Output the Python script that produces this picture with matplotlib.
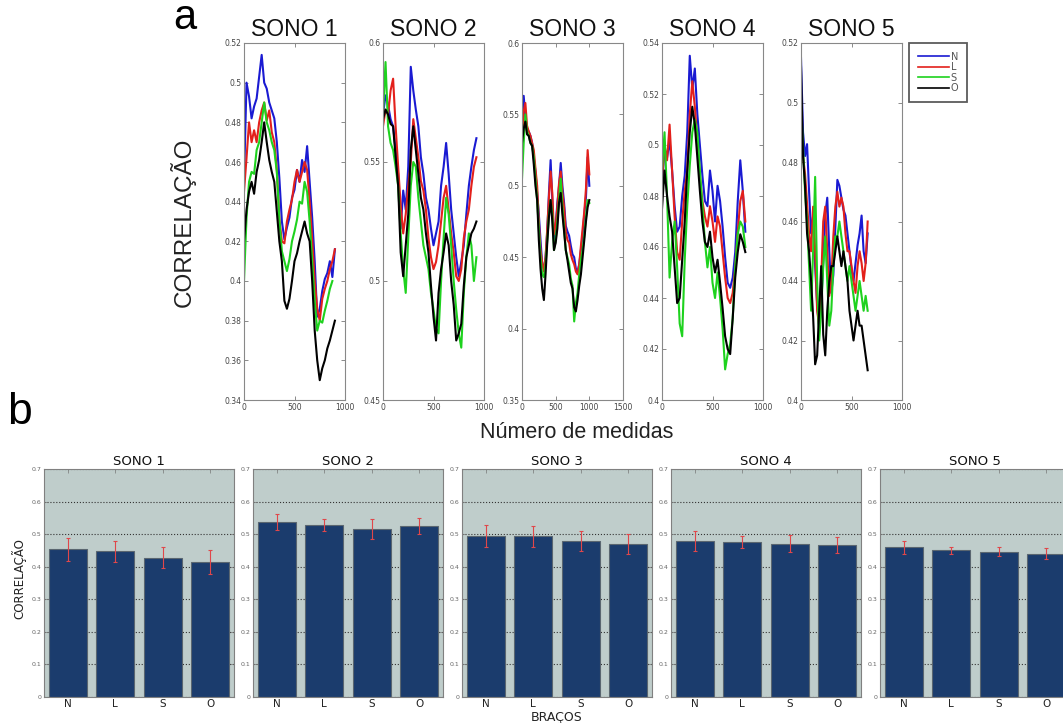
import numpy as np
import matplotlib
matplotlib.use("Agg")
import matplotlib.pyplot as plt
from matplotlib.ticker import FuncFormatter
from matplotlib.lines import Line2D

# ---------------- data: panel a (time series) ----------------
arms = ["N", "L", "S", "O"]
sessions = ["SONO 1", "SONO 2", "SONO 3", "SONO 4", "SONO 5"]
steps = [25, 25, 25, 25, 20]   # measurement spacing of the typed samples

N1 = [0.450,0.500,0.493,0.482,0.488,0.492,0.503,0.514,0.500,0.497,0.490,0.486,0.482,0.470,0.452,0.430,0.421,0.427,0.432,0.442,0.446,0.456,0.450,0.461,0.455,0.468,0.450,0.432,0.410,0.382,0.386,0.395,0.401,0.404,0.410,0.402,0.416]
L1 = [0.445,0.462,0.480,0.470,0.476,0.470,0.480,0.486,0.490,0.481,0.486,0.475,0.470,0.456,0.431,0.420,0.419,0.430,0.436,0.441,0.450,0.456,0.450,0.455,0.460,0.456,0.440,0.421,0.400,0.386,0.380,0.391,0.396,0.400,0.406,0.410,0.416]
S1 = [0.400,0.432,0.450,0.455,0.454,0.466,0.470,0.480,0.490,0.480,0.476,0.470,0.466,0.455,0.431,0.415,0.410,0.405,0.411,0.420,0.425,0.431,0.440,0.439,0.450,0.445,0.430,0.410,0.390,0.375,0.380,0.379,0.385,0.390,0.396,0.400]
O1 = [0.420,0.436,0.445,0.450,0.444,0.455,0.461,0.470,0.480,0.470,0.461,0.455,0.450,0.435,0.420,0.410,0.390,0.386,0.391,0.400,0.410,0.414,0.420,0.425,0.430,0.424,0.420,0.400,0.375,0.360,0.350,0.356,0.360,0.366,0.370,0.375,0.380]

N2 = [0.570,0.578,0.574,0.568,0.565,0.555,0.545,0.522,0.538,0.530,0.548,0.590,0.580,0.572,0.565,0.552,0.545,0.535,0.530,0.522,0.515,0.520,0.525,0.540,0.548,0.558,0.545,0.530,0.520,0.510,0.502,0.508,0.515,0.528,0.540,0.548,0.555,0.560]
L2 = [0.565,0.572,0.570,0.580,0.585,0.565,0.548,0.532,0.520,0.528,0.540,0.550,0.568,0.560,0.552,0.542,0.538,0.530,0.518,0.510,0.505,0.508,0.515,0.525,0.535,0.540,0.530,0.520,0.512,0.502,0.500,0.505,0.518,0.525,0.530,0.540,0.548,0.552]
S2 = [0.570,0.592,0.565,0.558,0.555,0.548,0.540,0.520,0.505,0.495,0.518,0.540,0.550,0.548,0.535,0.525,0.515,0.510,0.505,0.495,0.488,0.480,0.478,0.500,0.518,0.535,0.528,0.515,0.500,0.488,0.478,0.472,0.495,0.510,0.520,0.515,0.500,0.510]
O2 = [0.568,0.572,0.570,0.566,0.565,0.552,0.540,0.512,0.502,0.515,0.528,0.555,0.565,0.555,0.545,0.535,0.530,0.520,0.512,0.498,0.485,0.475,0.495,0.505,0.512,0.520,0.515,0.500,0.490,0.475,0.478,0.482,0.498,0.510,0.515,0.520,0.522,0.525]

N3 = [0.525,0.563,0.548,0.540,0.538,0.535,0.530,0.520,0.510,0.495,0.480,0.462,0.445,0.442,0.450,0.468,0.495,0.518,0.490,0.462,0.472,0.488,0.500,0.516,0.500,0.488,0.472,0.468,0.465,0.458,0.452,0.450,0.442,0.440,0.445,0.455,0.465,0.480,0.492,0.520,0.500]
L3 = [0.530,0.552,0.558,0.542,0.538,0.535,0.530,0.525,0.512,0.500,0.475,0.455,0.446,0.440,0.450,0.470,0.492,0.510,0.495,0.466,0.472,0.485,0.502,0.510,0.495,0.485,0.468,0.462,0.460,0.452,0.448,0.445,0.440,0.438,0.445,0.458,0.470,0.482,0.498,0.525,0.508]
S3 = [0.505,0.530,0.550,0.538,0.535,0.530,0.528,0.520,0.505,0.490,0.470,0.450,0.438,0.436,0.445,0.462,0.480,0.490,0.480,0.455,0.462,0.475,0.490,0.505,0.485,0.470,0.455,0.450,0.445,0.435,0.430,0.405,0.418,0.425,0.438,0.448,0.455,0.465,0.478,0.490,0.488]
O3 = [0.530,0.540,0.545,0.536,0.535,0.530,0.528,0.515,0.500,0.490,0.462,0.442,0.428,0.420,0.438,0.460,0.478,0.490,0.475,0.455,0.460,0.470,0.488,0.495,0.480,0.468,0.455,0.448,0.440,0.432,0.428,0.415,0.412,0.420,0.430,0.438,0.450,0.462,0.475,0.485,0.490]

N4 = [0.484,0.498,0.495,0.502,0.490,0.476,0.466,0.468,0.480,0.488,0.505,0.535,0.522,0.530,0.512,0.500,0.488,0.478,0.476,0.490,0.482,0.470,0.484,0.478,0.468,0.456,0.446,0.444,0.448,0.458,0.478,0.494,0.482,0.466]
L4 = [0.486,0.500,0.494,0.508,0.490,0.472,0.458,0.455,0.470,0.482,0.490,0.512,0.525,0.515,0.502,0.488,0.478,0.472,0.468,0.476,0.470,0.462,0.472,0.468,0.458,0.448,0.440,0.438,0.442,0.452,0.466,0.478,0.482,0.470]
S4 = [0.490,0.505,0.480,0.448,0.462,0.470,0.452,0.430,0.425,0.455,0.476,0.492,0.505,0.510,0.505,0.490,0.476,0.462,0.452,0.460,0.446,0.440,0.450,0.440,0.428,0.412,0.418,0.422,0.432,0.452,0.465,0.470,0.468,0.460]
O4 = [0.475,0.490,0.480,0.472,0.466,0.452,0.438,0.440,0.455,0.470,0.490,0.505,0.515,0.508,0.495,0.482,0.470,0.462,0.460,0.466,0.456,0.450,0.455,0.446,0.436,0.425,0.420,0.418,0.432,0.448,0.458,0.465,0.462,0.458]

N5 = [0.515,0.490,0.482,0.486,0.470,0.456,0.462,0.445,0.432,0.424,0.432,0.446,0.462,0.468,0.450,0.436,0.442,0.458,0.474,0.472,0.468,0.464,0.462,0.456,0.450,0.444,0.440,0.446,0.452,0.456,0.462,0.450,0.446,0.456]
L5 = [0.492,0.482,0.476,0.466,0.456,0.450,0.465,0.450,0.430,0.425,0.440,0.460,0.465,0.450,0.435,0.440,0.455,0.465,0.470,0.465,0.468,0.465,0.456,0.450,0.450,0.445,0.440,0.436,0.445,0.450,0.446,0.440,0.446,0.460]
S5 = [0.500,0.485,0.470,0.460,0.445,0.430,0.450,0.475,0.440,0.420,0.430,0.445,0.455,0.440,0.425,0.430,0.445,0.455,0.455,0.460,0.455,0.450,0.445,0.440,0.445,0.440,0.435,0.430,0.435,0.440,0.435,0.430,0.435,0.430]
O5 = [0.512,0.482,0.472,0.456,0.450,0.440,0.428,0.412,0.415,0.430,0.445,0.422,0.415,0.430,0.440,0.445,0.445,0.450,0.455,0.450,0.445,0.450,0.445,0.440,0.430,0.425,0.420,0.425,0.430,0.425,0.425,0.420,0.415,0.410]

series_a = [[N1, L1, S1, O1], [N2, L2, S2, O2], [N3, L3, S3, O3],
            [N4, L4, S4, O4], [N5, L5, S5, O5]]

ylims_a = [(0.34, 0.52), (0.45, 0.60), (0.35, 0.60), (0.40, 0.54), (0.40, 0.52)]
ystep_a = [0.02, 0.05, 0.05, 0.02, 0.02]
xmax_a = [1000, 1000, 1500, 1000, 1000]

# ---------------- data: panel b (bars) ----------------
bar_means = [[0.453, 0.448, 0.428, 0.415],
             [0.538, 0.528, 0.516, 0.524],
             [0.495, 0.493, 0.479, 0.470],
             [0.478, 0.475, 0.471, 0.467],
             [0.459, 0.450, 0.446, 0.440]]
bar_errs = [[0.035, 0.032, 0.033, 0.037],
            [0.024, 0.019, 0.030, 0.025],
            [0.034, 0.031, 0.030, 0.031],
            [0.031, 0.019, 0.025, 0.024],
            [0.019, 0.010, 0.014, 0.017]]

# ---------------- styling ----------------
line_colors = ["#1a1ad2", "#e3201b", "#1ed21e", "#000000"]
W, H = 1063, 723
fig = plt.figure(figsize=(W / 100, H / 100), dpi=100)

def fx(px):
    return px / W

def fy(py):
    return 1 - py / H

fmt = FuncFormatter(lambda v, p: ("%g" % round(v, 4)))

top_lefts = [244, 383, 522, 662, 801]
for i, left in enumerate(top_lefts):
    ax = fig.add_axes([fx(left), fy(400), fx(101), 357 / H])
    step = steps[i]
    for vals, c in zip(series_a[i], line_colors):
        x = np.arange(len(vals)) * step
        ax.plot(x, vals, color=c, lw=1.5)
    lo, hi = ylims_a[i]
    ax.set_ylim(lo, hi)
    ax.set_xlim(0, xmax_a[i])
    ax.set_yticks(np.arange(lo, hi + 1e-9, ystep_a[i]))
    ax.set_xticks(np.arange(0, xmax_a[i] + 1, 500))
    ax.yaxis.set_major_formatter(fmt)
    ax.tick_params(direction="in", length=3, width=0.6, labelsize=5.5,
                   colors="#777777", labelcolor="#444444", top=True, right=True, pad=2)
    for sp in ax.spines.values():
        sp.set_color("#888888")
        sp.set_linewidth(0.8)
    ax.text(0.5, 1.005, sessions[i], transform=ax.transAxes, ha="center", va="bottom",
            fontsize=16.5, family="Liberation Sans", color="#111111")

# legend for panel a
handles = [Line2D([], [], color=c, lw=1.2) for c in line_colors]
leg = fig.legend(handles, arms, loc="upper left", bbox_to_anchor=(fx(909), fy(43)),
                 fontsize=7, frameon=True, fancybox=False, handlelength=3.2,
                 handletextpad=0.2, labelspacing=0.05, borderpad=0.9,
                 borderaxespad=0)
leg.get_frame().set_edgecolor("#333333")
leg.get_frame().set_linewidth(1.3)
for t in leg.get_texts():
    t.set_color("#555555")

fig.text(fx(185), fy(18), "a", fontsize=30, ha="center", va="center", family="Liberation Sans")
fig.text(fx(183), fy(222), "CORRELAÇÃO", fontsize=17.5, rotation=90, ha="center",
         va="center", family="Liberation Sans", color="#222222")
fig.text(fx(577), fy(433), "Número de medidas", fontsize=15.5, ha="center",
         va="center", family="Liberation Sans", color="#222222")
fig.text(fx(20), fy(413), "b", fontsize=32, ha="center", va="center", family="Liberation Sans")

# panel b
bot_lefts = [44, 253, 462, 671, 880]
xpos = np.arange(len(arms))
for i, left in enumerate(bot_lefts):
    ax = fig.add_axes([fx(left), fy(697), fx(190), 228 / H])
    ax.set_facecolor("#bfcdcb")
    ax.set_axisbelow(True)
    ax.yaxis.grid(True, linestyle=":", color="#333333", lw=0.8)
    ax.bar(xpos, bar_means[i], width=0.8, color="#1b3c6d", edgecolor="#5a6670", lw=0.8)
    ax.errorbar(xpos, bar_means[i], yerr=bar_errs[i], fmt="none", ecolor="#e0474a",
                elinewidth=0.8, capsize=1.5, capthick=0.8)
    ax.set_ylim(0, 0.7)
    ax.set_xlim(-0.5, 3.5)
    ax.set_yticks(np.arange(0, 0.71, 0.1))
    ax.yaxis.set_major_formatter(fmt)
    ax.set_xticks(xpos)
    ax.set_xticklabels(arms)
    ax.tick_params(axis="y", direction="in", length=3, width=0.5, labelsize=4.5,
                   colors="#777777", labelcolor="#666666", right=True, pad=2)
    ax.tick_params(axis="x", direction="in", length=3, width=0.5, labelsize=7.5,
                   colors="#777777", labelcolor="#222222", top=True, pad=1.5)
    for sp in ax.spines.values():
        sp.set_color("#808080")
        sp.set_linewidth(0.8)
    ax.set_title(sessions[i], fontsize=9.5, pad=3, color="#111111")

fig.text(fx(19), fy(579), "CORRELAÇÃO", fontsize=8.5, rotation=90, ha="center",
         va="center", color="#222222")
fig.text(fx(557), fy(717), "BRAÇOS", fontsize=9, ha="center", va="center", color="#222222")

fig.savefig("out.png", dpi=100)
